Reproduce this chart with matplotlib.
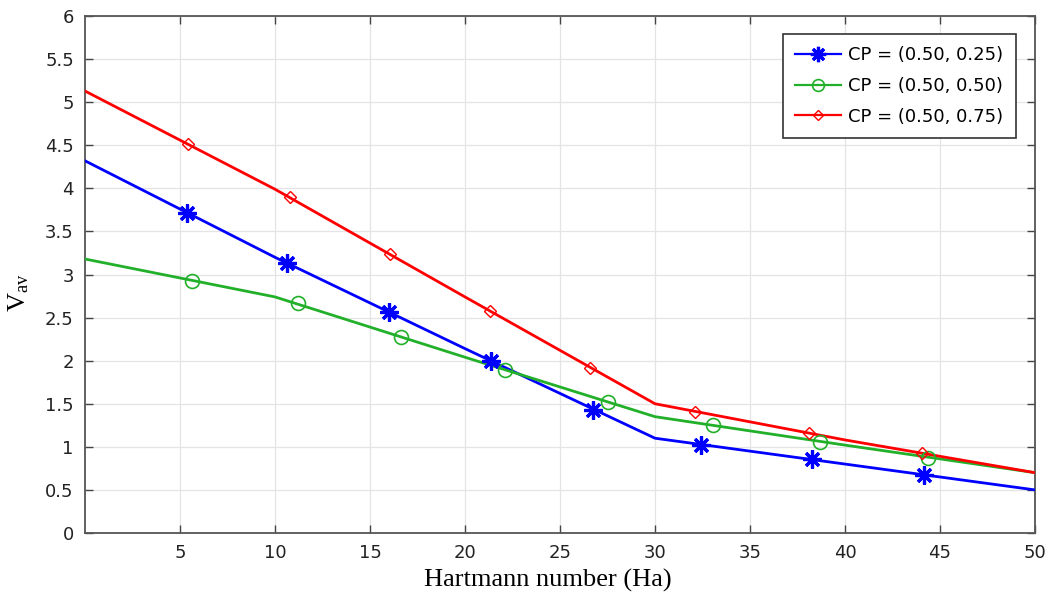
import matplotlib
matplotlib.use("Agg")
import matplotlib.pyplot as plt

# Line vertices (Hartmann number vs V_av)
ha_line = [0, 10, 20, 30, 40, 50]
v_blue_line = [4.32, 3.20, 2.14, 1.10, 0.80, 0.50]
v_green_line = [3.18, 2.74, 2.04, 1.35, 1.02, 0.70]
v_red_line = [5.13, 3.99, 2.74, 1.50, 1.08, 0.70]

# Marker positions
ha_blue_mk = [5.38, 10.63, 16.0, 21.37, 26.75, 32.4, 38.28, 44.14]
v_blue_mk = [3.71, 3.13, 2.56, 2.00, 1.43, 1.02, 0.86, 0.67]
ha_green_mk = [5.61, 11.2, 16.63, 22.09, 27.54, 33.07, 38.7, 44.35]
v_green_mk = [2.93, 2.67, 2.28, 1.89, 1.52, 1.25, 1.06, 0.87]
ha_red_mk = [5.44, 10.79, 16.05, 21.3, 26.6, 32.1, 38.1, 44.07]
v_red_mk = [4.51, 3.90, 3.24, 2.58, 1.92, 1.41, 1.16, 0.93]

labels = ["CP = (0.50, 0.25)", "CP = (0.50, 0.50)", "CP = (0.50, 0.75)"]
x_ticks = [5, 10, 15, 20, 25, 30, 35, 40, 45, 50]
y_ticks = [0, 0.5, 1, 1.5, 2, 2.5, 3, 3.5, 4, 4.5, 5, 5.5, 6]
y_tick_labels = ["0", "0.5", "1", "1.5", "2", "2.5", "3", "3.5", "4", "4.5", "5", "5.5", "6"]

plt.rcParams['mathtext.fontset'] = 'custom'
plt.rcParams['mathtext.rm'] = 'Liberation Serif'
plt.rcParams['mathtext.it'] = 'Liberation Serif:italic'

fig = plt.figure(figsize=(10.54, 5.98), dpi=100)
ax = fig.add_axes([0.0806, 0.1087, 0.9014, 0.8645])

blue = '#0000ff'
green = '#22b02a'
red = '#ff0000'

series = [
    (v_blue_line, ha_blue_mk, v_blue_mk, blue, (8, 2, 0), 13, 2.3, labels[0]),
    (v_green_line, ha_green_mk, v_green_mk, green, 'o', 10, 1.2, labels[1]),
    (v_red_line, ha_red_mk, v_red_mk, red, 'D', 6.5, 1.0, labels[2]),
]
handles = []
for yl, xm, ym, c, mk, ms, mew, lab in series:
    ax.plot(ha_line, yl, color=c, lw=2.0, zorder=3)
    ax.plot(xm, ym, linestyle='none', marker=mk, ms=ms, mew=mew,
            mec=c, mfc='none', zorder=4)
    h, = ax.plot([], [], color=c, lw=1.6, marker=mk, ms=ms * 0.85, mew=mew,
                 mec=c, mfc='none', label=lab)
    handles.append(h)

ax.set_xlim(0, 50)
ax.set_ylim(0, 6)
ax.set_xticks(x_ticks)
ax.set_xticklabels([str(t) for t in x_ticks])
ax.set_yticks(y_ticks)
ax.set_yticklabels(y_tick_labels)
ax.tick_params(direction='in', top=True, right=True, length=6, width=1,
               color='#444444', labelsize=13, labelcolor='#222222', pad=8)
ax.grid(True, color='#e4e4e4', lw=0.9)
ax.set_axisbelow(True)
for s in ax.spines.values():
    s.set_color('#555555')
    s.set_linewidth(1.3)

ax.set_xlabel('Hartmann number (Ha)', fontfamily='Liberation Serif',
              fontsize=19)
ax.xaxis.set_label_coords(0.487, -0.07, transform=ax.transAxes)
ax.xaxis.label.set_va('top')
ax.set_ylabel(r'$\mathrm{V_{av}}$', fontsize=19)
ax.yaxis.set_label_coords(-0.056, 0.465, transform=ax.transAxes)

leg = ax.legend(handles=handles, loc='upper right',
                bbox_to_anchor=(0.989, 0.983), fontsize=13,
                fancybox=False, edgecolor='#333333', framealpha=1,
                handlelength=2.5, borderpad=0.7, labelspacing=0.7,
                handletextpad=0.4)
leg.get_frame().set_linewidth(1.2)

fig.savefig('out.png', dpi=100)
